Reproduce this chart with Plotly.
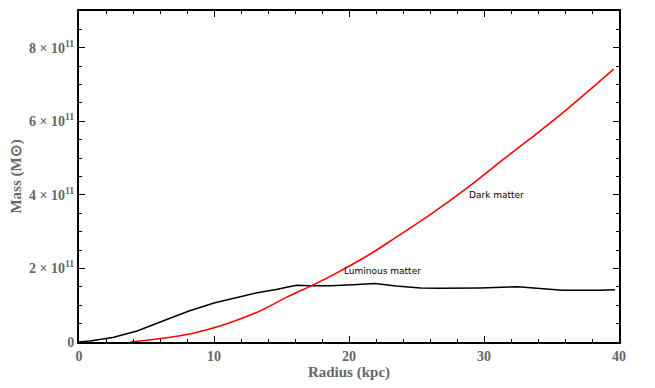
import plotly.graph_objects as go

# Luminous matter (x in kpc, mass in 1e11 solar masses)
lum_r = [0, 0.8, 2.5, 4.3, 6.5, 8.2, 10.0, 11.4, 13.2, 14.6, 16.1, 17.1, 18.6, 20.3, 21.9, 23.5, 25.3, 26.7, 29.7, 32.5, 35.8, 38.6, 39.7]
lum_m = [0, 0.03, 0.12, 0.30, 0.61, 0.85, 1.06, 1.18, 1.34, 1.43, 1.54, 1.53, 1.53, 1.56, 1.59, 1.52, 1.47, 1.46, 1.47, 1.50, 1.41, 1.41, 1.42]

# Dark matter
dm_r = [3.8, 5.5, 8.2, 10.9, 13.2, 15.4, 17.5, 19.1, 21.3, 23.5, 26.2, 29.0, 31.2, 33.4, 35.6, 37.6, 39.6]
dm_m = [0.0, 0.07, 0.22, 0.49, 0.81, 1.22, 1.58, 1.88, 2.33, 2.85, 3.51, 4.26, 4.90, 5.52, 6.16, 6.78, 7.42]

y_tickvals = [0, 2, 4, 6, 8]
y_ticktext = ["<b>0</b>", "<b>2 × 10<sup>11</sup></b>", "<b>4 × 10<sup>11</sup></b>", "<b>6 × 10<sup>11</sup></b>", "<b>8 × 10<sup>11</sup></b>"]
x_tickvals = [0, 10, 20, 30, 40]
x_ticktext = ["<b>0</b>", "<b>10</b>", "<b>20</b>", "<b>30</b>", "<b>40</b>"]

fig = go.Figure()
fig.add_trace(go.Scatter(x=lum_r, y=lum_m, mode="lines", line=dict(color="black", width=1.5), showlegend=False))
fig.add_trace(go.Scatter(x=dm_r, y=dm_m, mode="lines", line=dict(color="#ff0000", width=1.6, shape="spline"), showlegend=False))

fig.add_annotation(x=30.9, y=4.0, text="Dark matter", showarrow=False,
                   font=dict(family="DejaVu Sans", size=9, color="black"))
fig.add_annotation(x=22.5, y=1.92, text="Luminous matter", showarrow=False,
                   font=dict(family="DejaVu Sans", size=9, color="black"))

tickfont = dict(family="Liberation Serif", size=14, color="#666666")
axis_common = dict(showline=True, linecolor="black", linewidth=2, mirror="ticks",
                   ticks="inside", ticklen=6, tickwidth=1.2, tickcolor="black",
                   showgrid=False, zeroline=False, tickfont=tickfont)

fig.update_xaxes(range=[0, 40], tickvals=x_tickvals, ticktext=x_ticktext,
                 minor=dict(ticks="inside", dtick=2, tick0=0, ticklen=3, tickcolor="black", showgrid=False),
                 title=dict(text="<b>Radius (kpc)</b>", font=dict(family="Liberation Serif", size=15, color="#666666"), standoff=4),
                 **axis_common)
fig.update_yaxes(range=[0, 9], tickvals=y_tickvals, ticktext=y_ticktext,
                 minor=dict(ticks="inside", dtick=0.5, tick0=0, ticklen=3, tickcolor="black", showgrid=False),
                 title=dict(text="<b>Mass (M⊙)</b>", font=dict(family="Liberation Serif", size=15, color="#666666"), standoff=5),
                 **axis_common)

fig.update_layout(width=655, height=388, margin=dict(l=71, r=44, t=1, b=54),
                  plot_bgcolor="white", paper_bgcolor="white")

fig.write_html("out.html")
